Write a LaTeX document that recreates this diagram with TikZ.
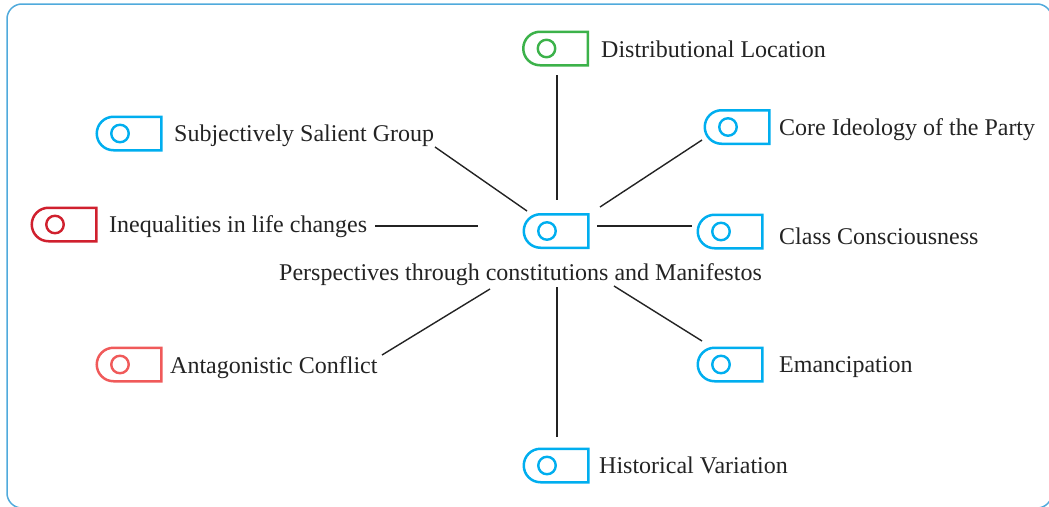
\documentclass[tikz,border=0pt]{standalone}
\usepackage{fontspec}
\setmainfont{Liberation Serif}
\usetikzlibrary{shapes.misc}
\definecolor{cblue}{RGB}{0,174,239}
\definecolor{cgreen}{RGB}{60,178,74}
\definecolor{cred}{RGB}{208,32,46}
\definecolor{clred}{RGB}{240,90,90}
\definecolor{cframe}{RGB}{80,170,220}
\definecolor{cline}{RGB}{35,35,35}
\newcommand\tagicon[4]{%
  \node[tagbox=#4] (#1) at (#2,#3) {};
  \node[dotc=#4] (#1c) at (#2-9,#3) {};
}
\begin{document}
\begin{tikzpicture}[x=1pt,y=-1pt,
  tagbox/.style={draw=#1, rounded rectangle, rounded rectangle right arc=none,
    minimum width=64.5pt, minimum height=33.5pt, inner sep=0pt, line width=2.5pt},
  dotc/.style={draw=#1, circle, minimum size=17.5pt, inner sep=0pt, line width=2.4pt},
  lbl/.style={anchor=base west, inner sep=0pt, font=\fontsize{24}{29}\selectfont, text=cline},
  conn/.style={draw=cline, line width=1.4pt}]
\useasboundingbox (0,0) rectangle (1049,506);
\begin{scope}
\clip (0,0) rectangle (1049,506);
\draw[cframe, line width=1.5pt, rounded corners=15pt] (7,4) rectangle (1052,508);
\end{scope}

\tagicon{dist}{555.5}{48.5}{cgreen}
\tagicon{subj}{129}{133.5}{cblue}
\tagicon{core}{737}{127}{cblue}
\tagicon{ineq}{64}{224.5}{cred}
\tagicon{hub}{556}{231}{cblue}
\tagicon{class}{730}{231.5}{cblue}
\tagicon{anta}{129}{364.5}{clred}
\tagicon{eman}{730}{364.5}{cblue}
\tagicon{hist}{556}{465.5}{cblue}

\node[lbl] (tdist) at (601,57) {Distributional Location};
\node[lbl] (tsubj) at (174,141) {Subjectively Salient Group};
\node[lbl] (tcore) at (779,135) {Core Ideology of the Party};
\node[lbl] (tineq) at (109,232) {Inequalities in life changes};
\node[lbl] (tclass) at (779,244) {Class Consciousness};
\node[lbl, anchor=base] (thub) at (520.5,280) {Perspectives through constitutions and Manifestos};
\node[lbl] (tanta) at (170,373) {Antagonistic Conflict};
\node[lbl] (teman) at (779,372) {Emancipation};
\node[lbl] (thist) at (599,473) {Historical Variation};

\coordinate (a1) at (557,75);  \coordinate (b1) at (557,200);
\coordinate (a2) at (435,147); \coordinate (b2) at (527,211);
\coordinate (a3) at (702,140); \coordinate (b3) at (600,207);
\coordinate (a4) at (375,226); \coordinate (b4) at (478,226);
\coordinate (a5) at (692,226); \coordinate (b5) at (597,226);
\coordinate (a6) at (382,355); \coordinate (b6) at (490,289);
\coordinate (a7) at (702,341); \coordinate (b7) at (614,286);
\coordinate (a8) at (557,437); \coordinate (b8) at (557,287);
\foreach \i in {1,...,8} \draw[conn] (a\i) -- (b\i);
\end{tikzpicture}
\end{document}
